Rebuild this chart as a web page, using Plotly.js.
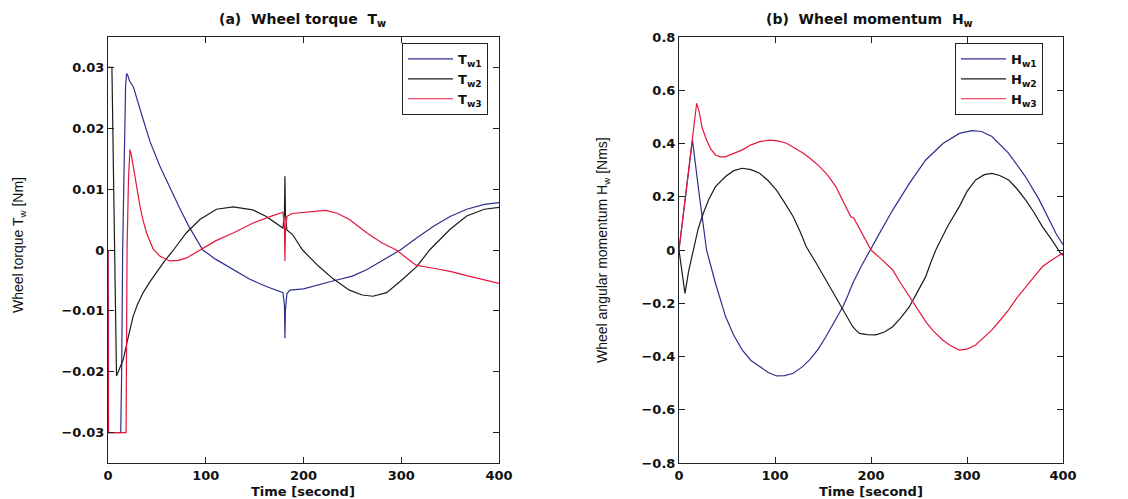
<!DOCTYPE html>
<html>
<head>
<meta charset="utf-8">
<script src="https://cdn.plot.ly/plotly-3.0.1.min.js"></script>
<style>html,body{margin:0;padding:0;background:#fff}#chart{width:1128px;height:499px}</style>
</head>
<body>
<div id="chart"></div>
<script>
// ---- (a) Wheel torque T_w ----
const tw1_t = [0, 0.5, 13, 14, 15, 17, 18, 19, 20, 22, 26, 33, 43, 53, 63, 73, 83, 97, 110, 128, 145, 162, 175, 179, 180.5, 181, 181.5, 183, 186, 200, 230, 250, 265, 280, 299, 315, 333, 350, 367, 385, 400];
const tw1   = [0, -0.03, -0.03, -0.02, 0.0, 0.022, 0.027, 0.029, 0.0288, 0.0278, 0.0268, 0.023, 0.0178, 0.0138, 0.0103, 0.007, 0.0038, 0.0, -0.0015, -0.0032, -0.0048, -0.006, -0.0068, -0.007, -0.009, -0.0145, -0.010, -0.0072, -0.0066, -0.0064, -0.0051, -0.0043, -0.0032, -0.0018, 0.0, 0.0019, 0.0039, 0.0055, 0.0067, 0.0075, 0.0078];

const tw2_t = [0, 4, 8.7, 12, 15.6, 20, 25.7, 30, 36, 43, 49.6, 58, 67, 80, 94, 111, 128, 148, 162, 175, 179, 180.5, 181, 181.5, 183, 189, 199, 215, 230, 247, 260, 271, 285, 300, 316, 329, 350, 367, 385, 400];
const tw2   = [0.03, 0.03, -0.0207, -0.0195, -0.018, -0.0148, -0.0109, -0.009, -0.007, -0.0052, -0.0037, -0.0018, 0.0, 0.0028, 0.005, 0.0067, 0.0071, 0.0066, 0.0055, 0.0041, 0.0036, 0.006, 0.0121, 0.006, 0.0033, 0.0025, 0.0, -0.0026, -0.0047, -0.0066, -0.0074, -0.0076, -0.007, -0.005, -0.0027, 0.0, 0.0034, 0.0056, 0.0067, 0.007];

const tw3_t = [0, 0.5, 18.5, 19.5, 21, 22.5, 24, 25.7, 29, 32.7, 36, 39.5, 46, 53, 63, 72, 80.5, 94, 110, 128, 148, 168, 179, 180.5, 181, 181.5, 183, 188, 200, 223, 235, 247, 265, 280, 295, 315, 333, 350, 367, 385, 400];
const tw3   = [0, -0.03, -0.03, 0.0, 0.012, 0.0165, 0.0155, 0.0138, 0.0105, 0.0072, 0.0048, 0.0028, 0.0002, -0.001, -0.0018, -0.0017, -0.0013, 0.0, 0.0015, 0.0028, 0.0044, 0.0056, 0.0062, 0.004, -0.0018, 0.003, 0.0055, 0.006, 0.0062, 0.0065, 0.006, 0.005, 0.0028, 0.0012, 0.0, -0.0025, -0.003, -0.0035, -0.0042, -0.0049, -0.0055];

// ---- (b) Wheel momentum H_w ----
const hw1_t = [0, 14, 21, 28.7, 38, 48.5, 57, 66, 75, 84, 93, 101.5, 110, 119, 128, 136, 145, 153, 162, 170.7, 176, 181, 190, 199, 210, 222.6, 240, 257, 275, 292, 305, 315, 326, 343, 361, 375, 385.5, 393, 400];
const hw1   = [0, 0.413, 0.21, 0.0, -0.125, -0.25, -0.32, -0.376, -0.415, -0.438, -0.46, -0.473, -0.472, -0.463, -0.44, -0.413, -0.372, -0.326, -0.27, -0.213, -0.17, -0.125, -0.06, 0.0, 0.07, 0.15, 0.25, 0.338, 0.4, 0.438, 0.448, 0.445, 0.426, 0.365, 0.275, 0.19, 0.113, 0.06, 0.02];

const hw2_t = [0, 6.2, 10, 14.9, 20, 25.3, 31, 38, 48.5, 57, 66, 75, 84, 93, 101.5, 110, 119, 126, 132.6, 143, 153, 162, 170.7, 176, 179, 181, 184, 188, 196, 205, 214, 222.6, 231, 240, 248, 257, 262, 267.5, 280, 292, 300, 309, 318, 326, 334, 343.4, 352, 361, 370, 378.5, 388, 397, 400];
const hw2   = [0, -0.163, -0.08, 0.0, 0.08, 0.138, 0.19, 0.238, 0.276, 0.298, 0.307, 0.302, 0.288, 0.26, 0.225, 0.178, 0.125, 0.07, 0.012, -0.05, -0.113, -0.17, -0.225, -0.26, -0.275, -0.288, -0.3, -0.313, -0.318, -0.319, -0.308, -0.288, -0.255, -0.213, -0.16, -0.1, -0.05, 0.0, 0.09, 0.163, 0.22, 0.263, 0.283, 0.288, 0.28, 0.263, 0.23, 0.188, 0.14, 0.088, 0.04, -0.01, -0.02];

const hw3_t = [0, 9, 14, 18.4, 21, 24, 28.7, 33, 38, 43, 48, 57, 66, 75, 84, 94.5, 103, 112, 120, 129.5, 138, 146.5, 155, 163.4, 170, 177.7, 179, 182, 185, 188, 194, 200, 211, 222.6, 231, 240, 248, 257, 265, 274.6, 283, 292, 300, 309, 317, 326, 335, 343.4, 352, 361, 370, 378.5, 387, 396, 400];
const hw3   = [0, 0.27, 0.42, 0.551, 0.52, 0.46, 0.413, 0.38, 0.357, 0.35, 0.35, 0.362, 0.376, 0.395, 0.407, 0.413, 0.41, 0.401, 0.385, 0.363, 0.34, 0.313, 0.28, 0.238, 0.19, 0.138, 0.125, 0.12, 0.1, 0.075, 0.04, 0.0, -0.035, -0.075, -0.125, -0.175, -0.22, -0.269, -0.305, -0.338, -0.36, -0.376, -0.372, -0.357, -0.33, -0.3, -0.262, -0.225, -0.18, -0.138, -0.1, -0.063, -0.04, -0.02, -0.012];

const namesT = ['T<sub>w1</sub>', 'T<sub>w2</sub>', 'T<sub>w3</sub>'];
const namesH = ['H<sub>w1</sub>', 'H<sub>w2</sub>', 'H<sub>w3</sub>'];
const xTicks = [0, 100, 200, 300, 400];

const COLORS = ['#2e2f8f', '#1c1c1c', '#e4173a'];
const LW = 1.2;
const FONT_B = 'DejaVu Sans, Verdana, sans-serif';
const FONT_N = 'Liberation Sans, Arial, Helvetica, sans-serif';

const traces = [
  {x: tw1_t, y: tw1, name: namesT[0], xaxis: 'x', yaxis: 'y', legend: 'legend'},
  {x: tw2_t, y: tw2, name: namesT[1], xaxis: 'x', yaxis: 'y', legend: 'legend'},
  {x: tw3_t, y: tw3, name: namesT[2], xaxis: 'x', yaxis: 'y', legend: 'legend'},
  {x: hw1_t, y: hw1, name: namesH[0], xaxis: 'x2', yaxis: 'y2', legend: 'legend2'},
  {x: hw2_t, y: hw2, name: namesH[1], xaxis: 'x2', yaxis: 'y2', legend: 'legend2'},
  {x: hw3_t, y: hw3, name: namesH[2], xaxis: 'x2', yaxis: 'y2', legend: 'legend2'}
].map((tr, i) => Object.assign(tr, {type: 'scatter', mode: 'lines', line: {color: COLORS[i % 3], width: LW}}));

const W = 1128, H = 499, T = 37, B = 36;
const plotH = H - T - B;
const py = p => (H - B - p) / plotH;   // pixel y -> paper y
const px = p => p / W;                 // pixel x -> paper x

const tickFont = {family: FONT_B, size: 13, color: '#111', weight: 'bold'};
const axisCommon = {
  showline: true, linecolor: '#222', linewidth: 1, mirror: 'ticks',
  ticks: 'inside', ticklen: 6, tickcolor: '#222', showgrid: false, zeroline: false,
  tickfont: tickFont
};

const legendCommon = {
  xanchor: 'right', yanchor: 'top', bgcolor: '#fff', bordercolor: '#222', borderwidth: 1,
  font: {family: FONT_B, size: 13, color: '#111', weight: 'bold'}, tracegroupgap: 0, itemwidth: 45
};

const boldFont = {family: FONT_B, size: 14, color: '#111', weight: 'bold'};
const ann = (text, x, y, font, extra) => Object.assign({
  text: text, xref: 'paper', yref: 'paper', x: px(x), y: py(y), xanchor: 'center', yanchor: 'middle',
  showarrow: false, font: font
}, extra || {});

const layout = {
  width: W, height: H,
  margin: {l: 0, r: 0, t: T, b: B},
  paper_bgcolor: '#fff', plot_bgcolor: '#fff',
  showlegend: true,
  xaxis: Object.assign({}, axisCommon, {domain: [px(108), px(499)], range: [0, 400], tickvals: xTicks, anchor: 'y'}),
  yaxis: Object.assign({}, axisCommon, {range: [-0.035, 0.035], dtick: 0.01, tick0: 0, anchor: 'x'}),
  xaxis2: Object.assign({}, axisCommon, {domain: [px(679), px(1063)], range: [0, 400], tickvals: xTicks, anchor: 'y2'}),
  yaxis2: Object.assign({}, axisCommon, {range: [-0.8, 0.8], dtick: 0.2, tick0: 0, anchor: 'x2'}),
  legend: Object.assign({}, legendCommon, {x: px(488), y: py(43)}),
  legend2: Object.assign({}, legendCommon, {x: px(1043), y: py(43)}),
  annotations: [
    ann('(a)\u00A0\u00A0Wheel torque\u00A0\u00A0T<sub>w</sub>', 302, 20, boldFont),
    ann('(b)\u00A0\u00A0Wheel momentum\u00A0\u00A0H<sub>w</sub>', 869, 20, boldFont),
    ann('Time [second]', 303, 491, {family: FONT_B, size: 13, color: '#111', weight: 'bold'}),
    ann('Time [second]', 871, 491, {family: FONT_B, size: 13, color: '#111', weight: 'bold'}),
    ann('Wheel torque T<sub>w</sub> [Nm]', 19, 245, {family: FONT_N, size: 14, color: '#111'}, {textangle: -90}),
    ann('Wheel angular momentum H<sub>w</sub> [Nms]', 603, 250, {family: FONT_N, size: 14, color: '#111'}, {textangle: -90})
  ]
};

Plotly.newPlot('chart', traces, layout, {staticPlot: true, displayModeBar: false});
</script>
</body>
</html>
